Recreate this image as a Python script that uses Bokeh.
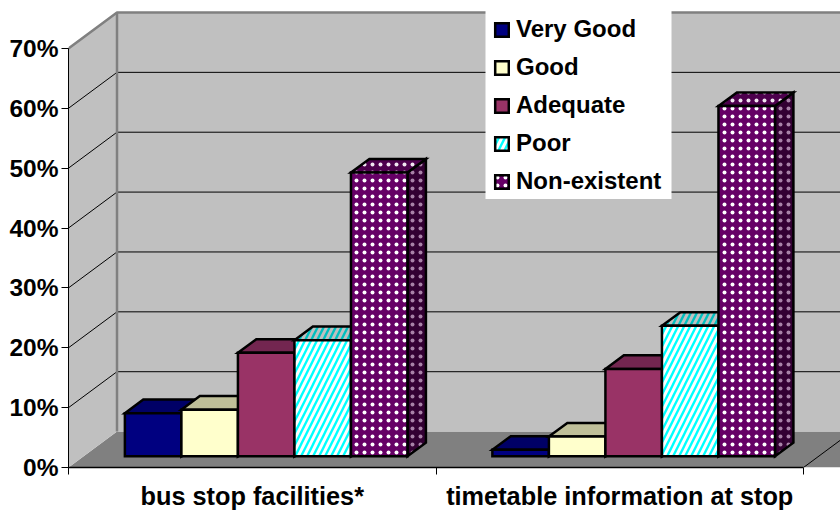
from bokeh.plotting import figure
from bokeh.models import Range1d, LinearAxis, FixedTicker, Legend, LegendItem
from bokeh.embed import file_html
from bokeh.resources import INLINE

categories = ["bus stop facilities*", "timetable information at stop"]
series = ["Very Good", "Good", "Adequate", "Poor", "Non-existent"]
very_good = [7.2, 1.1]
good = [7.8, 3.3]
adequate = [17.3, 14.6]
poor = [19.4, 21.8]
non_existent = [47.4, 58.5]
values = [very_good, good, adequate, poor, non_existent]
y_ticks = [0, 10, 20, 30, 40, 50, 60, 70]

front = ["#000080", "#FFFFCC", "#993366", "#00FFFF", "#660066"]
top = ["#000066", "#BFBF99", "#732650", "#00BFBF", "#4D004D"]
side = ["#000040", "#808066", "#4D1A33", "#008080", "#330033"]
stripe_front, stripe_top, stripe_side = "white", "#C0C0C0", "#80BFBF"
dot_front, dot_top, dot_side = "white", "#F0E6F0", "#A882A8"

PX_X, PX_Y = 367.5, 6.0             # pixels per x unit and per percent
DX, DY = 48.5 / PX_X, 36 / PX_Y     # projection of full floor depth
D0, D1 = 0.31, 0.69                 # bar depth span
MARGIN, BW = 0.1125, 0.1538         # group margin and bar width
YMAX, XMAX = 468 / PX_Y, 772 / PX_X


def P(x, y, d):
    return x + d * DX, y + d * DY


def poly(*pts):
    return [q[0] for q in pts], [q[1] for q in pts]


p = figure(width=840, height=512, output_backend="svg", toolbar_location=None,
           x_range=Range1d(0, XMAX), y_range=Range1d(0, YMAX),
           min_border_left=68, min_border_right=0, min_border_top=0, min_border_bottom=44,
           x_axis_type=None, y_axis_type=None, outline_line_color=None, margin=0)
p.grid.visible = False

# walls and floor
xs, ys = poly(P(0, 0, 0), P(0, 0, 1), P(XMAX + 1, 0, 1), P(XMAX + 1, 0, 0))
p.patch(xs, ys, fill_color="#808080", line_color=None)
xs, ys = poly(P(0, 0, 1), P(XMAX + 1, 0, 1), P(XMAX + 1, 70, 1), P(0, 70, 1))
p.patch(xs, ys, fill_color="#C0C0C0", line_color=None)
xs, ys = poly(P(0, 0, 0), P(0, 0, 1), P(0, 70, 1), P(0, 70, 0))
p.patch(xs, ys, fill_color="#C0C0C0", line_color=None)

# gridlines
for t in y_ticks[1:-1]:
    a, b, c = P(0, t, 0), P(0, t, 1), P(XMAX + 1, t, 1)
    p.line([a[0], b[0], c[0]], [a[1], b[1], c[1]], line_color="black", line_width=1)

# wall frame
a, b, c, d = P(0, 70, 0), P(0, 70, 1), P(XMAX + 1, 70, 1), P(0, 0, 1)
p.line([a[0], b[0], c[0]], [a[1], b[1], c[1]], line_color="#808080", line_width=2.5)
p.line([b[0], d[0]], [b[1], d[1]], line_color="#808080", line_width=2.5)
e, f = P(0, 0, 0), P(0, 70, 0)
p.line([e[0], f[0]], [e[1], f[1]], line_color="black", line_width=1)
g = P(2, 0, 0)
p.line([g[0], g[0] + DX], [g[1], g[1] + DY], line_color="black", line_width=1)

# white panel behind the legend
p.quad(left=[(485 - 68) / PX_X], right=[(671 - 68) / PX_X],
       bottom=[(468 - 199) / PX_Y], top=[(468 - 6) / PX_Y],
       fill_color="white", line_color=None)


def face_style(s, face):
    if series[s] == "Poor":
        col = {"f": stripe_front, "t": stripe_top, "s": stripe_side}[face]
        return dict(hatch_pattern="right_diagonal_line", hatch_scale=12, hatch_weight=3, hatch_color=col)
    if series[s] == "Non-existent":
        col = {"f": dot_front, "t": dot_top, "s": dot_side}[face]
        return dict(hatch_pattern="dot", hatch_scale=8, hatch_weight=2, hatch_color=col)
    return {}


# bars
legend_items = []
for s, name in enumerate(series):
    fx, fy, tx, ty, sx, sy = [], [], [], [], [], []
    for g_i, v in enumerate(values[s]):
        x0 = g_i + MARGIN + s * BW
        x1 = x0 + BW
        a = poly(P(x0, 0, D0), P(x1, 0, D0), P(x1, v, D0), P(x0, v, D0))
        b = poly(P(x0, v, D0), P(x1, v, D0), P(x1, v, D1), P(x0, v, D1))
        c = poly(P(x1, 0, D0), P(x1, 0, D1), P(x1, v, D1), P(x1, v, D0))
        fx.append(a[0]); fy.append(a[1])
        tx.append(b[0]); ty.append(b[1])
        sx.append(c[0]); sy.append(c[1])
    kw = dict(line_color="black", line_width=2.5, line_join="miter")
    p.patches(sx, sy, fill_color=side[s], **face_style(s, "s"), **kw)
    p.patches(tx, ty, fill_color=top[s], **face_style(s, "t"), **kw)
    r = p.patches(fx, fy, fill_color=front[s], **face_style(s, "f"), **kw)
    legend_items.append(LegendItem(label=name, renderers=[r], index=0))

FONT = "Liberation Sans"
yax = LinearAxis(bounds=(0, 70), ticker=FixedTicker(ticks=y_ticks))
yax.major_label_overrides = {t: f"{t}%" for t in y_ticks}
yax.major_tick_out = 7
yax.major_tick_in = 0
yax.minor_tick_out = 0
yax.minor_tick_in = 0
yax.major_label_standoff = 3
yax.major_label_text_font = FONT
yax.major_label_text_font_style = "bold"
yax.major_label_text_font_size = "24.5px"
yax.major_label_text_color = "black"
yax.axis_line_color = "black"
p.add_layout(yax, "left")

xax = LinearAxis(bounds=(0, 2), ticker=FixedTicker(ticks=[0.5, 1.5], minor_ticks=[0, 1, 2]))
xax.major_label_overrides = {i + 0.5: c for i, c in enumerate(categories)}
xax.major_tick_out = 0
xax.major_tick_in = 0
xax.minor_tick_out = 7
xax.minor_tick_in = 0
xax.major_label_standoff = 7
xax.major_label_text_font = FONT
xax.major_label_text_font_style = "bold"
xax.major_label_text_font_size = "25.3px"
xax.major_label_text_color = "black"
xax.axis_line_color = "black"
xax.axis_line_width = 1.5
p.add_layout(xax, "below")

legend = Legend(items=legend_items, location=(425, 272), margin=0, padding=0,
                spacing=10, glyph_width=17, glyph_height=17, label_standoff=6,
                label_text_font=FONT, label_text_font_style="bold",
                label_text_font_size="24px", label_text_color="black",
                background_fill_color="white", background_fill_alpha=0,
                border_line_color=None, label_height=28, label_width=147)
p.add_layout(legend, "center")

open("out.html", "w").write(file_html(p, INLINE))
